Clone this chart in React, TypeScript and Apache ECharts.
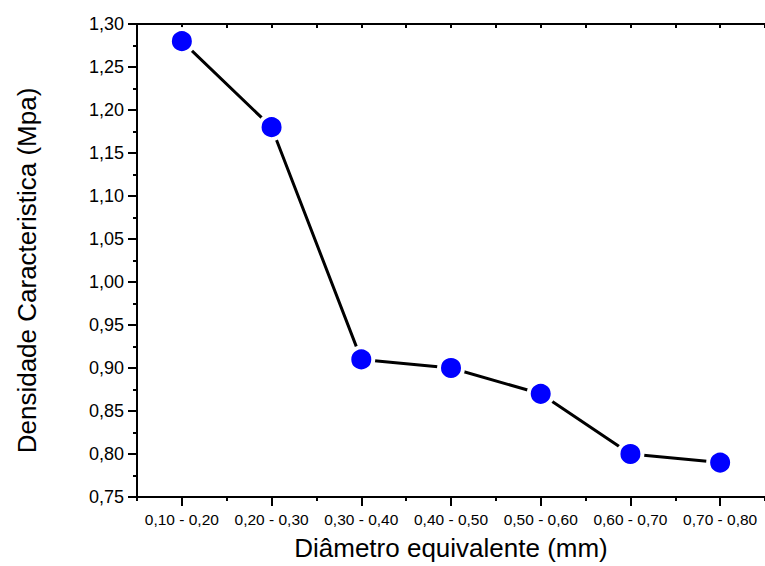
import React, { useEffect, useRef } from "react";
import * as echarts from "echarts";

const categories = [
  "0,10 - 0,20",
  "0,20 - 0,30",
  "0,30 - 0,40",
  "0,40 - 0,50",
  "0,50 - 0,60",
  "0,60 - 0,70",
  "0,70 - 0,80",
];
const densityValues = [1.28, 1.18, 0.91, 0.9, 0.87, 0.8, 0.79];
const yMin = 0.75;
const yMax = 1.3;
const yStep = 0.05;
const xTitle = "Diâmetro equivalente (mm)";
const yTitle = "Densidade Caracteristica (Mpa)";

const FONT = "'Liberation Sans', Arial, Helvetica, sans-serif";

export default function App() {
  const ref = useRef<HTMLDivElement>(null);
  useEffect(() => {
    if (!ref.current) return;
    const chart = echarts.init(ref.current, undefined, { renderer: "svg" });
    const positions = categories.map((_, i) => i + 1);
    const halfPositions = [0, ...positions].map((p) => p + 0.5);
    const allPositions = [...positions, ...halfPositions].sort((a, b) => a - b);
    const line = { lineStyle: { color: "#000", width: 2 } };
    chart.setOption({
      animation: false,
      backgroundColor: "#fff",
      textStyle: { fontFamily: FONT },
      grid: { left: 137, top: 24, right: -2, bottom: 68 },
      xAxis: [
        {
          type: "value",
          position: "bottom",
          min: 0.5,
          max: categories.length + 0.5,
          axisLine: { show: true, ...line },
          axisTick: {
            show: true,
            customValues: positions,
            length: 9,
            inside: false,
            lineStyle: { color: "#000", width: 2 },
          },
          axisLabel: {
            show: true,
            customValues: positions,
            formatter: (v: number) => categories[Math.round(v) - 1] ?? "",
            color: "#000",
            fontSize: 15.5,
            fontFamily: FONT,
            margin: 14,
          },
          splitLine: { show: false },
          name: xTitle,
          nameLocation: "middle",
          nameGap: 38,
          nameTextStyle: { color: "#000", fontSize: 26, fontFamily: FONT },
        },
        {
          type: "value",
          position: "bottom",
          min: 0.5,
          max: categories.length + 0.5,
          axisLine: { show: false },
          axisTick: {
            show: true,
            customValues: halfPositions,
            length: 4,
            inside: false,
            lineStyle: { color: "#000", width: 2 },
          },
          axisLabel: { show: false },
          splitLine: { show: false },
        },
        {
          type: "value",
          position: "top",
          min: 0.5,
          max: categories.length + 0.5,
          axisLine: { show: true, ...line },
          axisTick: {
            show: true,
            customValues: allPositions,
            length: 4,
            inside: true,
            lineStyle: { color: "#000", width: 2 },
          },
          axisLabel: { show: false },
          splitLine: { show: false },
        },
      ],
      yAxis: [
        {
          type: "value",
          position: "left",
          min: yMin,
          max: yMax,
          interval: yStep,
          axisLine: { show: true, ...line },
          axisTick: {
            show: true,
            length: 9,
            inside: false,
            lineStyle: { color: "#000", width: 2 },
          },
          minorTick: {
            show: true,
            splitNumber: 2,
            length: 4,
            lineStyle: { color: "#000", width: 2 },
          },
          axisLabel: {
            formatter: (v: number) => v.toFixed(2).replace(".", ","),
            color: "#000",
            fontSize: 18,
            fontFamily: FONT,
            margin: 13,
          },
          splitLine: { show: false },
          minorSplitLine: { show: false },
          name: yTitle,
          nameLocation: "middle",
          nameGap: 97,
          nameRotate: 90,
          nameTextStyle: {
            color: "#000",
            fontSize: 26,
            fontFamily: FONT,
            padding: [0, 20, 0, 0],
          },
        },
      ],
      series: [
        {
          type: "line",
          xAxisIndex: 0,
          yAxisIndex: 0,
          data: densityValues.map((v, i) => [positions[i], v]),
          symbol: "circle",
          symbolSize: 24,
          lineStyle: { color: "#000", width: 3 },
          itemStyle: { color: "#0000ff", borderColor: "#fff", borderWidth: 4 },
          emphasis: { disabled: true },
        },
      ],
    });
    return () => chart.dispose();
  }, []);
  return (
    <div
      ref={ref}
      style={{ position: "fixed", left: 0, top: 0, width: 765, height: 566 }}
    />
  );
}
